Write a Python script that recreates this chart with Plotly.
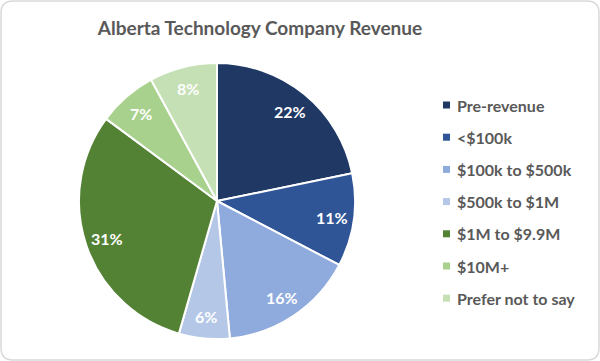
import math
import plotly.graph_objects as go

categories = ["Pre-revenue", "<$100k", "$100k to $500k", "$500k to $1M",
              "$1M to $9.9M", "$10M+", "Prefer not to say"]
shares = [22, 11, 16, 6, 31, 7, 8]
colors = ["#1F3864", "#2F5597", "#8FAADC", "#B4C7E7", "#548235", "#A9D18E", "#C5E0B4"]
title_text = "Alberta Technology Company Revenue"

W, H = 600, 361
CX, CY, R = 217, 201, 138  # pie centre / radius in pixels
fig = go.Figure()
fig.add_trace(go.Pie(
    labels=categories, values=shares, sort=False, direction="clockwise", rotation=0,
    marker=dict(colors=colors, line=dict(color="white", width=2)),
    textinfo="none",
    domain=dict(x=[(CX - R) / W, (CX + R) / W], y=[(H - CY - R) / H, (H - CY + R) / H]),
    showlegend=False, hoverinfo="label+value",
))

# data labels placed along each slice's bisector
total = sum(shares)
cum = 0
for v in shares:
    mid = (cum + v / 2) / total * 2 * math.pi
    cum += v
    rr = 0.84 * R
    lx = CX + rr * math.sin(mid)
    ly = CY - rr * math.cos(mid)
    fig.add_annotation(xref="paper", yref="paper", x=lx / W, y=(H - ly) / H,
                       xanchor="center", yanchor="middle", text=f"{v}%", showarrow=False,
                       font=dict(family="Lato", size=16, color="white", weight="bold"))

# legend built from the category arrays
top, step = 105, 32.2
for i, (lab, col) in enumerate(zip(categories, colors)):
    yc = top + i * step
    fig.add_shape(type="rect", xref="paper", yref="paper",
                  x0=443 / W, x1=450 / W, y0=(H - yc - 3.5) / H, y1=(H - yc + 3.5) / H,
                  fillcolor=col, line=dict(width=0))
    fig.add_annotation(xref="paper", yref="paper", x=455 / W, y=(H - yc) / H,
                       xanchor="left", yanchor="middle", text=lab, showarrow=False,
                       font=dict(family="Lato", size=16, color="#595959", weight="bold"))

# rounded border
r = 12
x0, y0, x1, y1 = 1, 1, W - 1, H - 1
def px(x): return x / W
def py(y): return (H - y) / H
path = (f"M {px(x0+r)},{py(y0)} L {px(x1-r)},{py(y0)} Q {px(x1)},{py(y0)} {px(x1)},{py(y0+r)} "
        f"L {px(x1)},{py(y1-r)} Q {px(x1)},{py(y1)} {px(x1-r)},{py(y1)} "
        f"L {px(x0+r)},{py(y1)} Q {px(x0)},{py(y1)} {px(x0)},{py(y1-r)} "
        f"L {px(x0)},{py(y0+r)} Q {px(x0)},{py(y0)} {px(x0+r)},{py(y0)} Z")
fig.add_shape(type="path", xref="paper", yref="paper", path=path,
              line=dict(color="#D9D9D9", width=1.5))

fig.update_layout(
    width=W, height=H, margin=dict(l=0, r=0, t=0, b=0),
    paper_bgcolor="white", plot_bgcolor="white",
    title=dict(text=title_text, x=260 / W, xanchor="center", y=(H - 28) / H, yanchor="middle",
               font=dict(family="Lato", size=19, color="#595959", weight="bold")),
)
fig.write_html("out.html", config={"displayModeBar": False},
               post_script="document.body.style.margin='0';document.body.style.overflow='hidden';")
